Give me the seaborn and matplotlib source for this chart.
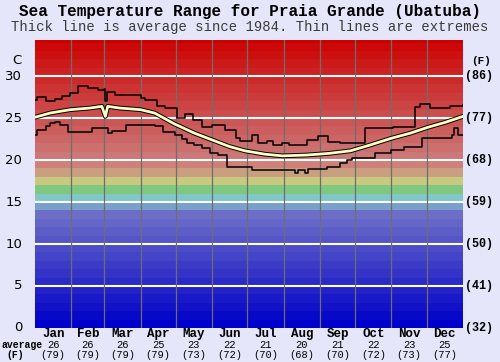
import matplotlib
matplotlib.use("Agg")
import matplotlib.pyplot as plt
import matplotlib.patheffects as pe
import seaborn as sns
import pandas as pd

# monthly summary labels
months = ["Jan", "Feb", "Mar", "Apr", "May", "Jun",
          "Jul", "Aug", "Sep", "Oct", "Nov", "Dec"]
month_avg_c = [26, 26, 26, 25, 23, 22, 21, 20, 21, 22, 23, 25]
month_avg_f = [79, 79, 79, 79, 73, 72, 70, 68, 70, 72, 73, 77]
month_starts = [0, 31, 59, 90, 120, 151, 181, 212, 243, 273, 304, 334, 365]

# average sea temperature (day of year, C)
avg_days = [0, 13, 30, 47, 57, 60, 62, 72, 90, 102, 119, 136, 151, 166,
            179, 196, 211, 232, 251, 269, 286, 304, 320, 335, 350, 365]
avg_temp = [25.1, 25.6, 26.0, 26.2, 26.4, 25.2, 26.4, 26.2, 26.0, 25.6, 24.3,
            23.2, 22.4, 21.6, 21.1, 20.7, 20.5, 20.6, 20.8, 21.1, 21.8, 22.6,
            23.2, 23.9, 24.5, 25.2]

# highest recorded
max_days = [0, 2, 9, 17, 23, 30, 37, 45, 54, 59, 60, 61, 68, 81, 90, 94,
            104, 111, 121, 128, 135, 142, 151, 162, 171, 175, 185, 190, 198,
            203, 211, 217, 232, 241, 250, 260, 281, 305, 324, 328, 337, 354, 365]
max_temp = [27.1, 27.5, 27.0, 27.3, 27.6, 28.0, 28.8, 28.6, 28.3, 28.5, 27.0,
            28.1, 27.7, 27.7, 27.4, 27.1, 26.4, 26.2, 25.0, 25.5, 24.8, 23.9,
            24.2, 23.6, 22.6, 22.3, 23.0, 22.0, 22.3, 21.8, 22.0, 21.8, 22.4,
            22.9, 22.1, 22.0, 23.8, 23.9, 26.3, 26.7, 26.2, 26.4, 26.5]

# lowest recorded
min_days = [0, 2, 9, 13, 17, 21, 28, 49, 62, 66, 78, 102, 109, 119, 125, 130,
            136, 142, 149, 156, 164, 185, 222, 224, 230, 233, 249, 260, 266,
            270, 290, 304, 315, 330, 356, 357, 361, 365]
min_temp = [23.0, 23.6, 24.0, 24.4, 24.5, 24.2, 23.3, 23.8, 23.2, 23.5, 24.2,
            24.0, 23.3, 23.0, 22.5, 22.0, 21.8, 21.4, 20.8, 20.6, 19.2, 18.8,
            18.5, 18.8, 18.5, 18.9, 19.2, 19.6, 20.0, 20.2, 20.8, 21.2, 21.5,
            22.6, 23.0, 23.8, 23.0, 23.0]

c_ticks = [0, 5, 10, 15, 20, 25, 30]
f_ticks = [32, 41, 50, 59, 68, 77, 86]


def band_colour(t):
    # 1 degree colour bands, blue -> green/yellow -> red
    special = {14: (120, 160, 200), 15: (128, 200, 200), 16: (128, 200, 128),
               17: (200, 200, 128), 18: (200, 160, 128), 19: (208, 128, 120)}
    if t in special:
        r, g, b = special[t]
    elif t < 14:
        v = int(8.5 * t)
        r, g, b = v, v, 200 if t > 0 else 205
    else:
        v = max(0, int(120 - 8.6 * (t - 20)))
        r, g, b = 204, v, v
    return (r / 255, g / 255, b / 255)


bg = "#E6E6FA"
fig = plt.figure(figsize=(5.0, 3.62), dpi=100, facecolor=bg)
ax = fig.add_axes([0.07, 0.094, 0.856, 0.7955])
ax.set_facecolor(bg)

for t in range(0, 35):
    ax.axhspan(t, t + 1, color=band_colour(t), lw=0, zorder=0)

for c in c_ticks[1:]:
    ax.axhline(c, color="white", lw=1.5, zorder=1)
for d in month_starts[1:-1]:
    ax.axvline(d, color="#6e6e6e", lw=0.9, zorder=1)

max_df = pd.DataFrame({"day": max_days, "temp": max_temp})
min_df = pd.DataFrame({"day": min_days, "temp": min_temp})
avg_df = pd.DataFrame({"day": avg_days, "temp": avg_temp})

sns.lineplot(data=max_df, x="day", y="temp", ax=ax, color="black", lw=1.1,
             drawstyle="steps-post", zorder=3)
sns.lineplot(data=min_df, x="day", y="temp", ax=ax, color="black", lw=1.1,
             drawstyle="steps-post", zorder=3)
sns.lineplot(data=avg_df, x="day", y="temp", ax=ax, color="#FFFFC4", lw=2.0,
             zorder=4,
             path_effects=[pe.Stroke(linewidth=3.4, foreground="black"), pe.Normal()])

ax.set_xlim(0, 365)
ax.set_ylim(0, 34.3)
ax.set_xticks([])
ax.set_yticks([])
ax.set_xlabel("")
ax.set_ylabel("")
for s in ax.spines.values():
    s.set_visible(False)

mono = "Liberation Mono"
sans = "DejaVu Sans"

# left celsius labels, right fahrenheit labels
for c, f in zip(c_ticks, f_ticks):
    ax.text(-11, c, str(c), ha="right", va="center", fontsize=9.5,
            family=sans, clip_on=False)
    ax.text(367, c, "(%d)" % f, ha="left", va="center", fontsize=8.5,
            family=mono, weight="bold", clip_on=False)
ax.text(-15.5, 31.8, "C", ha="center", va="center", fontsize=9.5, family=sans,
        clip_on=False)
ax.text(372, 31.8, "(F)", ha="left", va="center", fontsize=8, family=mono,
        weight="bold", clip_on=False)

# month labels with monthly averages
trans = ax.get_xaxis_transform()
for i, m in enumerate(months):
    mid = (month_starts[i] + month_starts[i + 1]) / 2
    ax.text(mid, -0.022, m, transform=trans, ha="center", va="center",
            fontsize=9, family=mono, weight="bold")
    ax.text(mid, -0.06, str(month_avg_c[i]), transform=trans, ha="center",
            va="center", fontsize=7.5, family=mono)
    ax.text(mid, -0.095, "(%d)" % month_avg_f[i], transform=trans, ha="center",
            va="center", fontsize=7.5, family=mono)
fig.text(0.004, 0.047, "average", ha="left", va="center",
         fontsize=7, family=mono, weight="bold")
fig.text(0.031, 0.02, "(F)", ha="center", va="center",
         fontsize=7, family=mono, weight="bold")

fig.text(0.5, 0.967, "Sea Temperature Range for Praia Grande (Ubatuba)",
         ha="center", va="center", fontsize=11.5, family=mono, weight="bold")
fig.text(0.5, 0.925, "Thick line is average since 1984. Thin lines are extremes",
         ha="center", va="center", fontsize=10, family=mono, color="#3a3a3a")

fig.savefig("out.png", dpi=100, facecolor=bg)
